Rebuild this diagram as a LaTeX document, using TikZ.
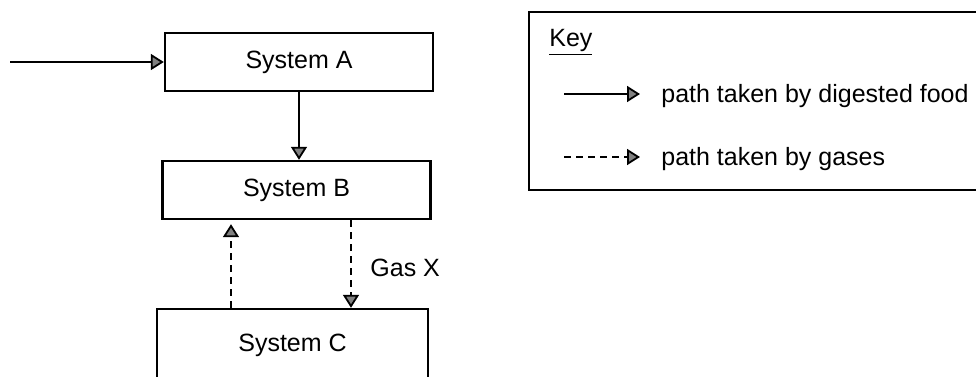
\documentclass[tikz,border=0pt]{standalone}
\usepackage{fontspec}
\setmainfont{Liberation Sans}
\usetikzlibrary{arrows.meta}

\begin{document}
\begin{tikzpicture}[x=0.5pt,y=-0.5pt,
        every node/.style={font=\fontsize{12.5}{15}\selectfont},
        sysbox/.style={draw,line width=1.2pt,minimum width=134pt,minimum height=29pt,inner sep=0pt},
        txt/.style={inner sep=0pt},
        flow/.style={line width=0.9pt,-{Triangle[length=6.5pt,width=8pt,fill=black!50]}},
        gasflow/.style={flow,dash pattern=on 3.5pt off 2.5pt}]
        \useasboundingbox (0,0) rectangle (976,376);
        \clip (0,0) rectangle (976,376);

        % systems
        \node[sysbox] (sysA) at (299,62) {System A};
        \node[sysbox] (sysB) at (296.5,190) {System B};
        \node[sysbox,minimum width=135.5pt,minimum height=36pt] (sysC) at (292.5,345) {System C};

        \coordinate (in) at (10,62);
        \coordinate (upX) at (231,0);
        \coordinate (downX) at (351,0);

        \draw[flow] (in) -- (sysA.west);
        \draw[flow] (sysA.south) -- (sysA.south |- sysB.north);
        \draw[gasflow] (upX |- sysC.north) -- ([yshift=-2pt]upX |- sysB.south);
        \draw[gasflow] (downX |- sysB.south) -- (downX |- sysC.north);
        \node[txt,anchor=west] (gasX) at (370,268) {Gas X};

        % key
        \draw[line width=1.2pt] (529,12) rectangle (995,190);
        \node[txt,anchor=base west] (keyT) at (549,46) {\underline{Key}};
        \coordinate (foodA) at (564,94);
        \coordinate (foodB) at (640,94);
        \coordinate (gasA) at (564,157);
        \coordinate (gasB) at (640,157);
        \draw[flow] (foodA) -- (foodB);
        \draw[gasflow] (gasA) -- (gasB);
        \node[txt,anchor=base west] (foodT) at (661,102) {path taken by digested food};
        \node[txt,anchor=base west] (gasT) at (661,165) {path taken by gases};
    \end{tikzpicture}
\end{document}
